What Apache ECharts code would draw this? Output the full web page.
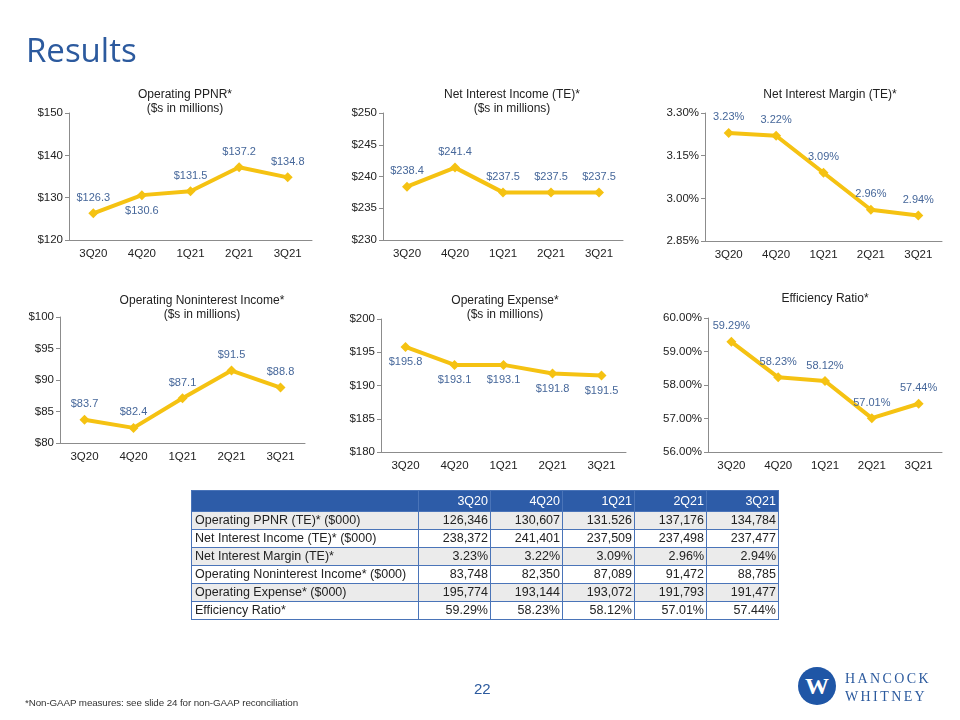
<!DOCTYPE html>
<html>
<head>
<meta charset="utf-8">
<script src="https://cdn.jsdelivr.net/npm/echarts@6/dist/echarts.min.js"></script>
<style>
    body { margin: 0; background: #fff; }
    #page { position: relative; width: 960px; height: 720px; overflow: hidden; font-family: 'Liberation Sans', Arial, sans-serif; }
    #main { position: absolute; left: 0; top: 0; width: 960px; height: 720px; }
    #heading { position: absolute; left: 26px; top: 27px; font-family: 'Open Sans', sans-serif; font-size: 33px; color: #2C5A9E; }
    #tbl { position: absolute; left: 191px; top: 490px; border-collapse: collapse; font-size: 12.5px; color: #222; }
    #tbl td { border: 1px solid #4A74B8; height: 17px; padding: 0 2px 0 3px; line-height: 17px; white-space: nowrap; }
    #tbl td.num { text-align: right; width: 66px; }
    #tbl td.lbl { width: 221px; }
    #tbl tr.head td { background: #2D5CA8; color: #fff; height: 20px; }
    #tbl tr.gray td { background: #EBEBEB; }
    #note { position: absolute; left: 25px; top: 697px; font-size: 9.8px; color: #333; letter-spacing: -0.1px; }
    #pagenum { position: absolute; left: 474px; top: 680px; font-size: 15px; color: #2C5A9E; }
    #logo { position: absolute; left: 798px; top: 667px; width: 38px; height: 38px; border-radius: 50%; background: #1F56A6; color: #fff; text-align: center; line-height: 38px; font-family: 'Liberation Serif', serif; font-weight: bold; font-size: 24px; }
    #brand { position: absolute; left: 845px; top: 670px; font-family: 'Liberation Serif', serif; font-size: 14px; line-height: 18px; letter-spacing: 2.4px; color: #2C5A9E; }
</style>
</head>
<body>
<div id="page">
    <div id="main"></div>
    <div id="heading">Results</div>
    <table id="tbl"></table>
    <div id="note">*Non-GAAP measures: see slide 24 for non-GAAP reconciliation</div>
    <div id="pagenum">22</div>
    <div id="logo">W</div>
    <div id="brand">HANCOCK<br>WHITNEY</div>
</div>
<script>
    var quarters = ['3Q20', '4Q20', '1Q21', '2Q21', '3Q21'];

    var ppnr = [126.3, 130.6, 131.5, 137.2, 134.8];
    var netInterestIncome = [238.4, 241.4, 237.5, 237.5, 237.5];
    var netInterestMargin = [3.23, 3.22, 3.09, 2.96, 2.94];
    var noninterestIncome = [83.7, 82.4, 87.1, 91.5, 88.8];
    var operatingExpense = [195.8, 193.1, 193.1, 191.8, 191.5];
    var efficiencyRatio = [59.29, 58.23, 58.12, 57.01, 57.44];

    var tableRows = [
        'Operating PPNR (TE)* ($000)',
        'Net Interest Income (TE)* ($000)',
        'Net Interest Margin (TE)*',
        'Operating Noninterest Income* ($000)',
        'Operating Expense* ($000)',
        'Efficiency Ratio*'
    ];
    var tableValues = [
        ['126,346', '130,607', '131.526', '137,176', '134,784'],
        ['238,372', '241,401', '237,509', '237,498', '237,477'],
        ['3.23%', '3.22%', '3.09%', '2.96%', '2.94%'],
        ['83,748', '82,350', '87,089', '91,472', '88,785'],
        ['195,774', '193,144', '193,072', '191,793', '191,477'],
        ['59.29%', '58.23%', '58.12%', '57.01%', '57.44%']
    ];

    // build the table
    var html = '<tr class="head"><td class="lbl"></td>';
    quarters.forEach(function (q) { html += '<td class="num">' + q + '</td>'; });
    html += '</tr>';
    tableRows.forEach(function (name, i) {
        html += '<tr class="' + (i % 2 == 0 ? 'gray' : '') + '"><td class="lbl">' + name + '</td>';
        tableValues[i].forEach(function (v) { html += '<td class="num">' + v + '</td>'; });
        html += '</tr>';
    });
    document.getElementById('tbl').innerHTML = html;

    var panels = [
        {title: 'Operating PPNR*\n($s in millions)', tx: 180, ty: 83, grid: [69, 113, 243, 127],
            data: ppnr, min: 120, max: 150, step: 10, fmt: 'money1', axisFmt: 'money0',
            pos: ['top', 'bottom', 'top', 'top', 'top']},
        {title: 'Net Interest Income (TE)*\n($s in millions)', tx: 507, ty: 83, grid: [383, 113, 240, 127],
            data: netInterestIncome, min: 230, max: 250, step: 5, fmt: 'money1', axisFmt: 'money0',
            pos: ['top', 'top', 'top', 'top', 'top']},
        {title: 'Net Interest Margin (TE)*', tx: 825, ty: 83, grid: [705, 113, 237, 128],
            data: netInterestMargin, min: 2.85, max: 3.30, step: 0.15, fmt: 'pct2', axisFmt: 'pct2',
            pos: ['top', 'top', 'top', 'top', 'top']},
        {title: 'Operating Noninterest Income*\n($s in millions)', tx: 197, ty: 289, grid: [60, 317, 245, 126],
            data: noninterestIncome, min: 80, max: 100, step: 5, fmt: 'money1', axisFmt: 'money0',
            pos: ['top', 'top', 'top', 'top', 'top']},
        {title: 'Operating Expense*\n($s in millions)', tx: 500, ty: 289, grid: [381, 319, 245, 133],
            data: operatingExpense, min: 180, max: 200, step: 5, fmt: 'money1', axisFmt: 'money0',
            pos: ['bottom', 'bottom', 'bottom', 'bottom', 'bottom']},
        {title: 'Efficiency Ratio*', tx: 820, ty: 287, grid: [708, 318, 234, 134],
            data: efficiencyRatio, min: 56, max: 60, step: 1, fmt: 'pct2', axisFmt: 'pct2',
            pos: ['top', 'top', 'top', 'top', 'top']}
    ];

    function format(v, kind) {
        if (kind == 'money0') return '$' + Math.round(v);
        if (kind == 'money1') return '$' + v.toFixed(1);
        return v.toFixed(2) + '%';
    }

    var font = "'Liberation Sans', Arial, sans-serif";
    var option = {
        animation: false,
        title: [], grid: [], xAxis: [], yAxis: [], series: []
    };

    panels.forEach(function (p, i) {
        option.title.push({
            text: p.title, left: p.tx, top: p.ty, textAlign: 'center',
            textStyle: {fontSize: 12, fontWeight: 'normal', color: '#222', lineHeight: 14, fontFamily: font}
        });
        option.grid.push({left: p.grid[0], top: p.grid[1], width: p.grid[2], height: p.grid[3]});
        option.xAxis.push({
            type: 'category', gridIndex: i, data: quarters,
            axisLine: {lineStyle: {color: '#8c8c8c'}},
            axisTick: {length: 5, lineStyle: {color: '#8c8c8c'}},
            axisLabel: {color: '#222', fontSize: 11.5, margin: 8, fontFamily: font}
        });
        option.yAxis.push({
            type: 'value', gridIndex: i, min: p.min, max: p.max, interval: p.step,
            splitLine: {show: false},
            axisLine: {show: true, lineStyle: {color: '#8c8c8c'}},
            axisTick: {show: true, length: 4, lineStyle: {color: '#8c8c8c'}},
            axisLabel: {color: '#222', fontSize: 11.5, margin: 6, fontFamily: font,
                formatter: function (v) { return format(v, p.axisFmt); }}
        });
        option.series.push({
            type: 'line', xAxisIndex: i, yAxisIndex: i,
            symbol: 'diamond', symbolSize: 10,
            lineStyle: {color: '#F5C212', width: 4},
            itemStyle: {color: '#F5C212'},
            data: p.data.map(function (v, k) {
                return {value: v, label: {position: p.pos[k]}};
            }),
            label: {
                show: true, distance: 5, color: '#46679A', fontSize: 11, fontFamily: font,
                formatter: function (d) { return format(d.value, p.fmt); }
            }
        });
    });

    var myChart = echarts.init(document.getElementById('main'));
    myChart.setOption(option);
</script>
</body>
</html>
